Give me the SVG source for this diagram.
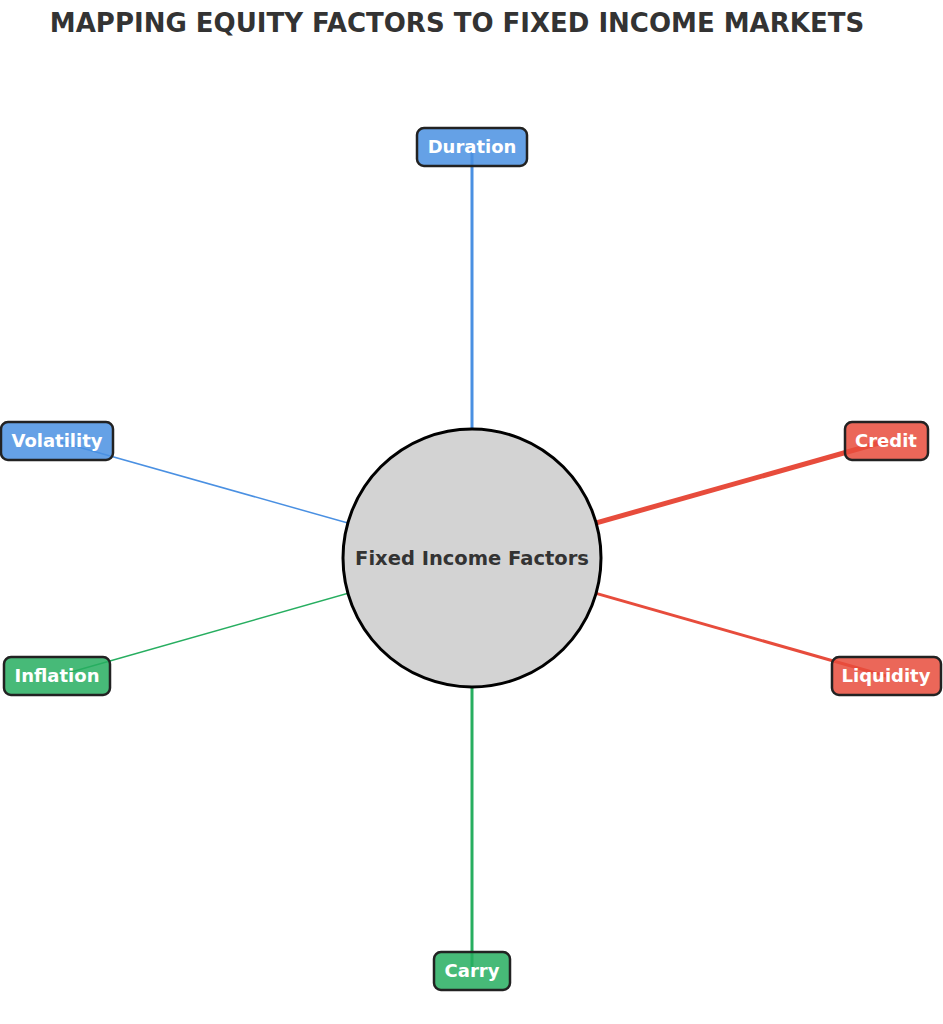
<svg xmlns="http://www.w3.org/2000/svg" width="943" height="1024" viewBox="0 0 943 1024">
<style>
.n rect{stroke:#222;stroke-width:2.5;fill-opacity:0.85}
.n text{font-family:"DejaVu Sans",sans-serif;font-weight:bold;font-size:18px;fill:#fff;text-anchor:middle}
.b{fill:#4a90e2}.r{fill:#e74c3c}.g{fill:#27ae60}
</style>
<rect width="943" height="1024" fill="#fff"/>
<text x="457" y="32" font-family="DejaVu Sans,sans-serif" font-weight="bold" font-size="26" fill="#333" text-anchor="middle">MAPPING EQUITY FACTORS TO FIXED INCOME MARKETS</text>
<g id="connectors" fill="none">
<line x1="472" y1="558" x2="472" y2="147" stroke="#4a90e2" stroke-width="3"/>
<line x1="472" y1="558" x2="57" y2="441" stroke="#4a90e2" stroke-width="1.5"/>
<line x1="472" y1="558" x2="57" y2="676" stroke="#27ae60" stroke-width="1.5"/>
<line x1="472" y1="558" x2="472" y2="971" stroke="#27ae60" stroke-width="3"/>
<line x1="472" y1="558" x2="886" y2="441" stroke="#e74c3c" stroke-width="5"/>
<line x1="472" y1="558" x2="886" y2="676" stroke="#e74c3c" stroke-width="3"/>
</g>
<g id="center"><circle cx="472" cy="558" r="129" fill="#d3d3d3" stroke="#000" stroke-width="3"/>
<text x="472" y="565" font-family="DejaVu Sans,sans-serif" font-weight="bold" font-size="19.5" fill="#333" text-anchor="middle">Fixed Income Factors</text></g>
<g id="duration" class="n"><rect class="b" x="417" y="128" width="110" height="38" rx="7"/><text x="472" y="153">Duration</text></g>
<g id="volatility" class="n"><rect class="b" x="1" y="422" width="112" height="38" rx="7"/><text x="57" y="447">Volatility</text></g>
<g id="inflation" class="n"><rect class="g" x="4" y="657" width="106" height="38" rx="7"/><text x="57" y="682">Inflation</text></g>
<g id="carry" class="n"><rect class="g" x="434" y="952" width="76" height="38" rx="7"/><text x="472" y="977">Carry</text></g>
<g id="credit" class="n"><rect class="r" x="845" y="422" width="83" height="38" rx="7"/><text x="886" y="447">Credit</text></g>
<g id="liquidity" class="n"><rect class="r" x="832" y="657" width="109" height="38" rx="7"/><text x="886" y="682">Liquidity</text></g>
</svg>
